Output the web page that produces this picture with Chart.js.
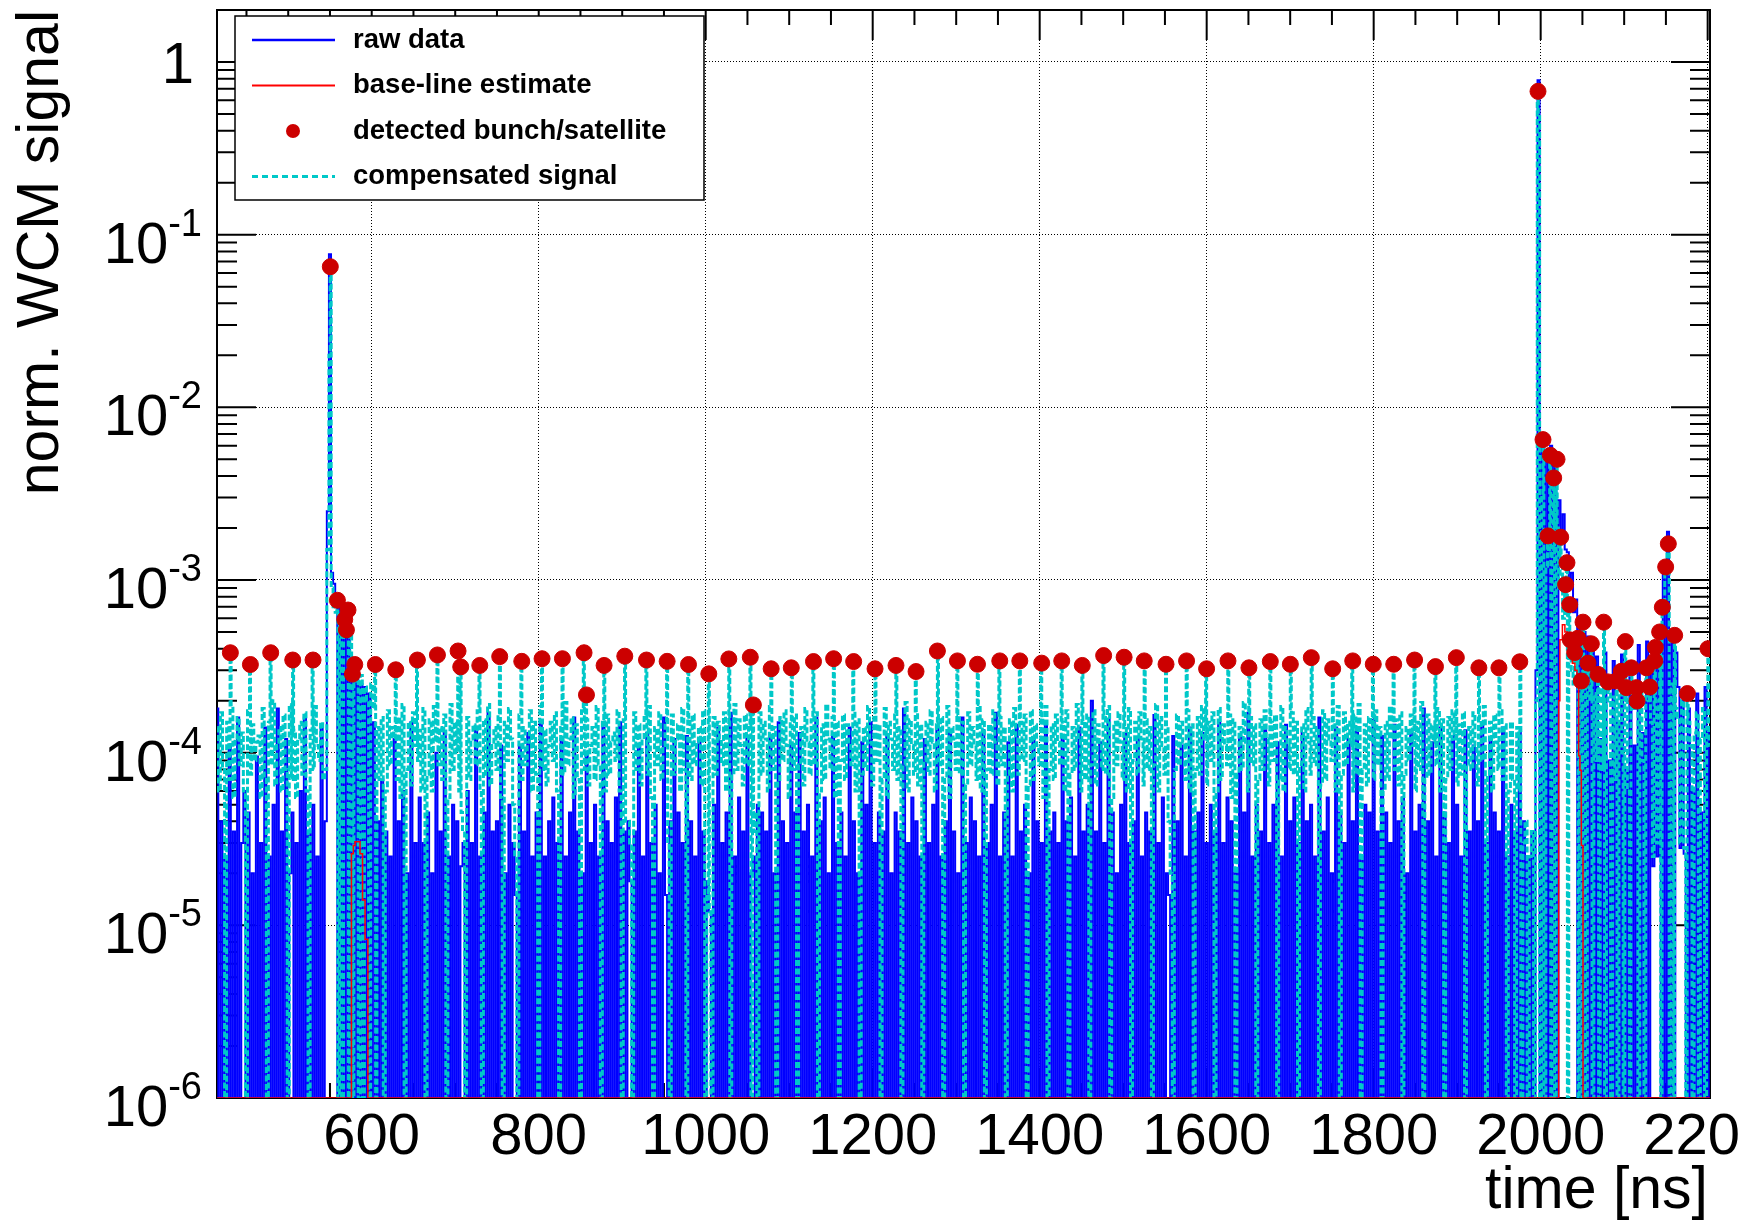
<!DOCTYPE html>
<html>
<head>
<meta charset="utf-8">
<script src="https://cdn.jsdelivr.net/npm/chart.js@4.4.1/dist/chart.umd.min.js"></script>
<style>
  html, body { margin: 0; padding: 0; background: #fff; overflow: hidden; }
</style>
</head>
<body>
<canvas id="wcm" width="1754" height="1226"></canvas>
<script>
// values are in units of 1e-6 (normalised WCM signal), bins of 2.5 ns starting at 415 ns
const UNIT = 1e-6;
const T0 = 415;
const BIN = 2.5;

const rawSignal = [
    180,0,40,0,25,0,110,0,35,0,160,0,30,60,0,45,0,20,0,95,
    0,30,0,140,0,25,0,50,0,180,0,35,0,120,0,20,45,0,30,0,
    60,0,160,0,35,0,50,0,25,0,140,0,40,2500,77000,1100,950,800,0,700,
    0,620,0,480,0,350,0,300,0,250,0,240,0,220,0,150,0,40,0,70,
    0,35,0,25,0,120,0,40,0,60,0,20,0,150,0,30,0,55,0,30,
    0,45,0,20,0,100,0,35,0,130,0,25,0,50,0,40,0,22,30,0,
    60,0,30,0,140,0,25,0,45,0,170,0,35,0,40,0,110,0,20,0,
    50,0,30,15,0,110,0,35,0,130,0,25,0,45,0,150,0,25,0,40,
    0,55,0,30,0,120,0,25,0,45,0,160,0,35,0,20,0,100,0,30,
    0,50,0,25,0,140,0,40,0,30,0,55,0,150,0,35,0,40,18,0,
    35,0,110,0,25,0,130,0,30,0,50,0,20,0,160,15,0,40,0,120,
    0,45,0,30,0,125,0,40,0,25,0,115,0,35,0,18,12,0,50,0,
    140,0,30,0,45,0,170,0,25,0,55,0,35,0,120,0,20,25,0,50,
    0,45,0,35,0,125,0,20,0,150,0,40,0,30,0,110,0,45,0,130,
    0,35,0,50,0,25,0,160,0,40,0,55,0,20,0,130,0,30,0,45,
    0,25,0,140,0,40,0,20,0,115,0,50,0,150,0,30,0,45,0,35,
    0,125,0,20,0,45,0,35,0,180,0,30,0,55,0,40,0,25,0,120,
    0,30,0,50,0,140,0,25,0,40,0,130,0,35,0,20,0,160,0,30,
    0,55,0,40,0,25,0,135,0,30,0,50,0,170,0,25,0,45,0,115,
    0,25,0,145,0,35,0,50,0,20,0,120,0,40,0,30,0,150,0,35,
    0,45,0,30,0,125,0,40,0,55,0,25,0,140,0,35,0,50,0,200,
    0,35,0,115,0,30,0,155,0,45,0,20,0,50,0,130,0,30,0,40,
    0,120,0,25,0,45,0,35,0,165,0,30,0,55,0,20,15,0,125,0,
    40,0,110,0,25,0,140,0,35,0,45,0,130,0,30,0,50,0,35,0,
    150,0,30,0,55,0,40,0,20,0,125,0,45,0,170,0,25,0,50,0,
    35,0,135,0,30,0,50,0,115,0,25,0,145,0,40,0,55,0,30,0,
    130,0,40,0,50,0,25,0,160,0,35,0,55,0,20,0,140,0,45,0,
    30,0,120,0,40,0,135,0,25,0,50,0,45,0,155,0,35,0,125,0,
    45,0,30,0,145,0,40,0,55,0,20,0,130,0,35,0,50,0,180,0,
    40,0,115,0,25,0,140,0,45,0,30,0,125,0,50,0,25,0,135,0,
    35,0,110,0,40,0,150,0,30,0,120,0,45,0,35,0,140,0,25,0,
    50,0,35,0,130,0,40,0,25,0,35,0,300,785000,0,6200,0,5400,0,6000,
    0,5500,0,2900,1800,2400,1500,1450,900,1100,650,770,0,560,0,500,0,470,0,420,
    0,360,0,120,0,380,0,90,0,340,0,150,0,370,0,80,0,330,0,110,
    0,420,0,130,0,440,0,300,22,400,25,380,0,1200,0,1900,0,430,0,380,
    240,28,200,26,0,180,0,60,0,220,0,45,0,240,0,130
];

const compSignal = [
    140,60,170,80,0,150,70,190,55,120,160,85,130,60,0,175,75,145,90,115,
    125,55,180,70,0,150,85,200,65,110,140,60,165,80,0,190,70,135,55,120,
    150,75,170,60,0,135,80,185,110,90,150,70,80,1500,20000,900,700,650,0,600,
    0,580,650,0,520,0,300,260,0,280,0,240,200,0,250,180,0,140,70,160,
    0,60,175,85,140,120,70,160,55,190,0,80,150,65,170,110,90,135,60,180,
    0,75,155,60,185,115,85,140,70,165,0,55,190,80,150,100,60,45,35,0,
    160,70,120,145,85,175,60,0,155,75,190,65,110,140,80,170,55,0,150,90,
    180,120,50,25,0,165,70,140,85,115,175,60,150,75,0,185,80,135,65,110,
    150,90,170,60,0,140,75,195,85,120,160,55,145,70,0,175,80,155,65,110,
    140,70,185,85,0,150,60,165,75,115,130,90,175,60,0,155,40,40,30,0,
    170,80,145,65,120,160,75,185,55,0,140,85,170,70,110,150,30,0,165,75,
    120,145,60,180,80,0,155,70,165,85,115,140,65,175,0,15,12,0,160,75,
    150,120,85,170,60,145,0,75,190,80,155,110,65,165,85,140,0,35,45,0,
    170,75,150,120,60,185,80,140,0,70,160,90,175,110,55,150,80,165,0,85,
    140,65,180,115,75,155,85,170,0,60,145,70,190,120,80,160,55,150,0,90,
    165,70,145,110,85,175,60,155,0,75,140,80,185,115,65,160,90,145,0,70,
    180,55,150,120,80,165,70,140,0,85,195,60,155,110,75,170,65,145,0,90,
    150,75,175,115,60,145,85,160,0,70,185,55,140,120,80,165,75,150,0,65,
    170,85,140,110,70,190,60,155,0,80,145,75,175,115,65,160,85,140,0,75,
    155,60,180,120,75,150,90,165,0,65,175,70,145,110,85,160,55,185,0,80,
    145,70,165,115,85,150,60,175,0,75,140,80,190,120,60,155,70,165,0,85,
    175,65,145,110,80,160,75,185,0,55,150,85,170,115,70,145,60,180,0,90,
    150,75,170,120,65,155,80,140,0,85,190,60,160,110,75,145,40,20,0,80,
    165,85,150,115,70,175,60,145,0,80,160,75,185,120,65,150,90,170,0,60,
    180,70,145,110,85,165,55,155,0,75,140,80,195,115,60,160,85,145,0,70,
    155,80,175,120,65,150,90,165,0,70,185,60,140,110,80,170,75,150,0,85,
    145,60,180,115,75,160,85,140,0,65,175,70,155,120,90,145,60,185,0,75,
    170,85,150,110,60,165,75,190,0,80,145,65,160,115,70,175,85,140,0,60,
    150,70,185,120,80,155,65,170,0,75,140,90,165,110,60,150,80,195,0,70,
    165,75,145,115,85,180,60,155,0,70,160,80,175,120,65,145,75,170,0,85,
    140,80,170,110,65,155,90,185,0,75,150,60,165,115,80,175,70,145,0,60,
    150,70,0,140,60,0,30,40,0,25,35,0,200,500000,0,3000,0,1200,1500,0,
    1500,0,2000,900,1200,600,800,0,400,300,250,300,0,200,0,300,0,250,200,0,
    220,90,0,250,80,0,190,230,0,210,70,0,240,100,0,200,60,0,220,180,
    200,0,230,90,0,240,200,150,25,180,30,200,0,700,1100,1500,0,250,0,180,
    160,30,200,28,0,150,110,0,130,170,0,120,180,0,140,110
];

// detected bunches / satellites: time [ns] and value (1e-6 units)
const bunchTimes = [
    430.7, 454.7, 479.0, 505.4, 529.7, 550.4, 558.9, 567.7, 569.7, 571.6, 576.9, 579.7,
    604.4, 628.8, 654.7, 678.7, 703.4, 706.6, 729.4, 753.3, 779.7, 804.0, 828.4, 854.3,
    857.2, 878.3, 903.1, 929.1, 953.8, 979.4, 1003.7, 1027.7, 1053.4, 1057.1, 1078.4, 1102.5,
    1129.1, 1153.2, 1177.2, 1202.8, 1227.9, 1251.9, 1277.5, 1301.5, 1325.5, 1352.2, 1376.2, 1402.4,
    1426.4, 1451.0, 1476.6, 1501.1, 1525.2, 1551.3, 1575.9, 1599.9, 1625.5, 1650.6, 1676.2, 1700.2,
    1725.3, 1750.9, 1774.9, 1799.5, 1824.0, 1849.0, 1874.0, 1899.0, 1926.0, 1950.0, 1975.0,
    1996.8, 2002.8, 2008.8, 2011.6, 2015.6, 2019.6, 2024.0, 2029.9, 2031.5, 2034.7, 2035.5,
    2040.7, 2044.7, 2048.7, 2050.7, 2056.7, 2060.7, 2068.7, 2075.5, 2080.7, 2090.6, 2096.6,
    2101.4, 2102.6, 2108.6, 2114.6, 2115.4, 2126.6, 2130.6, 2136.6, 2137.4, 2142.5, 2145.7,
    2149.7, 2152.9, 2160.5, 2175.7, 2200.4
];
const bunchValues = [
    379, 324, 379, 344, 344, 65200, 763, 590, 514, 670, 285, 324,
    324, 302, 344, 368, 388, 314, 320, 360, 338, 350, 350, 379,
    216, 320, 362, 344, 338, 324, 286, 349, 357, 189, 306, 310,
    337, 350, 337, 306, 320, 295, 388, 340, 325, 340, 340, 330,
    340, 320, 365, 357, 340, 325, 340, 306, 340, 310, 337, 325,
    355, 306, 340, 325, 325, 344, 315, 355, 310, 310, 336,
    676000, 6500, 1800, 5270, 3900, 5000, 1770, 940, 1260, 720, 450,
    380, 460, 260, 570, 330, 427, 284, 570, 257, 260, 296,
    440, 238, 310, 238, 199, 310, 240, 340, 407, 500, 695,
    1190, 1620, 478, 220, 400
];

// base-line estimate, value held from each time to the next (1e-6 units)
const baselineTimes = [415, 575.7, 578, 580, 586, 589, 592, 595.4, 2021.6, 2023, 2026, 2029,
    2032, 2035, 2038, 2041, 2043.5, 2045.5, 2047, 2048.7, 2050.7, 2202.5];
const baselineValues = [0, 26, 29, 30.5, 26, 14, 8.3, 0, 200, 450, 550, 500,
    440, 390, 330, 300, 260, 96, 79, 29, 0, 0];

const xTickValues = [600, 800, 1000, 1200, 1400, 1600, 1800, 2000, 2200];
const xTickLabels = ['600', '800', '1000', '1200', '1400', '1600', '1800', '2000', '220\u2007'];
const yTickValues = [1e-6, 1e-5, 1e-4, 1e-3, 1e-2, 1e-1, 1];
const yTickLabels = ['10', '10', '10', '10', '10', '10', '1'];
const yTickPowers = ['-6', '-5', '-4', '-3', '-2', '-1', ''];
const xTitle = 'time [ns]';

const X_MIN = 414.7, X_MAX = 2202.8;
const Y_MIN = 1e-6, Y_MAX = 2;

// non-positive samples sit on the bottom of the log axis, as in the original
const toY = v => Math.max(v * UNIT, Y_MIN);

const rawTable = rawSignal.map((v, i) => ({ x: T0 + i * BIN, y: toY(v) }));
const bunchTable = bunchTimes.map((t, i) => ({ x: t, y: bunchValues[i] * UNIT }));
const compTable = compSignal.map((v, i) => ({ x: T0 + i * BIN, y: toY(v) }))
    .concat(bunchTable)
    .sort((a, b) => a.x - b.x);
const baseTable = baselineTimes.map((t, i) => ({ x: t, y: toY(baselineValues[i]) }));

const FONT = "'Liberation Sans', Arial, Helvetica, sans-serif";

// frame and minor ticks like a ROOT pad, under the data
const frameTicks = {
    id: 'frameTicks',
    beforeDatasetsDraw(chart) {
        const { ctx, chartArea: a, scales: { x, y } } = chart;
        ctx.save();
        ctx.strokeStyle = '#000';
        ctx.lineWidth = 2;
        ctx.beginPath();
        for (let e = -6; e <= 0; e++) {
            for (let m = 1; m <= 9; m++) {
                const v = m * Math.pow(10, e);
                if (v < Y_MIN * 0.999 || v > Y_MAX * 1.001) continue;
                const py = y.getPixelForValue(v);
                const len = m === 1 ? 39 : 20;
                ctx.moveTo(a.left, py); ctx.lineTo(a.left + len, py);
                ctx.moveTo(a.right, py); ctx.lineTo(a.right - len, py);
            }
        }
        for (let t = 450; t <= X_MAX; t += 50) {
            const px = x.getPixelForValue(t);
            const len = t % 200 === 0 ? 30 : 15;
            ctx.moveTo(px, a.bottom); ctx.lineTo(px, a.bottom - len);
            ctx.moveTo(px, a.top); ctx.lineTo(px, a.top + len);
        }
        ctx.stroke();
        ctx.strokeRect(a.left, a.top, a.right - a.left, a.bottom - a.top);
        ctx.restore();
    }
};

// y tick labels written as 10 with a raised exponent, x title flush right
const axisText = {
    id: 'axisText',
    afterDraw(chart) {
        const { ctx, chartArea: a, scales: { y } } = chart;
        ctx.save();
        ctx.fillStyle = '#000';
        ctx.textAlign = 'right';
        ctx.textBaseline = 'alphabetic';
        yTickValues.forEach((v, i) => {
            const py = y.getPixelForValue(v);
            const pw = yTickPowers[i];
            if (!pw) {
                ctx.font = '58px ' + FONT;
                ctx.fillText(yTickLabels[i], a.left - 23, py + 21);
                return;
            }
            const xr = a.left - 15;
            ctx.font = '38px ' + FONT;
            const supW = ctx.measureText(pw).width;
            ctx.fillText(pw, xr, py + 1);
            ctx.font = '58px ' + FONT;
            ctx.fillText(yTickLabels[i], xr - supW, py + 28);
        });
        ctx.font = '59px ' + FONT;
        ctx.fillText(xTitle, a.right - 2, a.bottom + 110);
        ctx.restore();
    }
};

// boxed legend in the top-left corner of the frame
const boxLegend = {
    id: 'boxLegend',
    afterDraw(chart) {
        const { ctx, chartArea: a } = chart;
        const x0 = a.left + 18, y0 = a.top + 6, w = 469, h = 184;
        ctx.save();
        ctx.fillStyle = '#fff';
        ctx.fillRect(x0, y0, w, h);
        ctx.strokeStyle = '#000';
        ctx.lineWidth = 1.5;
        ctx.strokeRect(x0, y0, w, h);
        chart.data.datasets.forEach((ds, i) => {
            const cy = y0 + 24 + i * 45.5;
            if (ds.showLine === false) {
                ctx.fillStyle = ds.pointBackgroundColor;
                ctx.beginPath();
                ctx.arc(x0 + 58, cy, 7, 0, Math.PI * 2);
                ctx.fill();
            } else {
                ctx.strokeStyle = ds.borderColor;
                ctx.lineWidth = Math.min(ds.borderWidth + 0.5, 3);
                ctx.setLineDash(ds.borderDash ? [6, 4] : []);
                ctx.beginPath();
                ctx.moveTo(x0 + 17, cy);
                ctx.lineTo(x0 + 100, cy);
                ctx.stroke();
                ctx.setLineDash([]);
            }
            ctx.fillStyle = '#000';
            ctx.font = 'bold 27.5px ' + FONT;
            ctx.textBaseline = 'middle';
            ctx.textAlign = 'left';
            ctx.fillText(ds.label, x0 + 118, cy);
        });
        ctx.restore();
    }
};

new Chart(document.getElementById('wcm').getContext('2d'), {
    type: 'line',
    data: {
        datasets: [
            {
                label: 'raw data',
                data: rawTable,
                borderColor: '#0000ff',
                borderWidth: 2,
                stepped: 'middle',
                pointRadius: 0,
                order: 4
            },
            {
                label: 'base-line estimate',
                data: baseTable,
                borderColor: '#ff0000',
                borderWidth: 1.5,
                stepped: 'before',
                pointRadius: 0,
                order: 2
            },
            {
                label: 'detected bunch/satellite',
                data: bunchTable,
                showLine: false,
                pointRadius: 8,
                pointStyle: 'circle',
                pointBackgroundColor: '#cc0000',
                pointBorderColor: '#cc0000',
                pointBorderWidth: 1,
                order: 1
            },
            {
                label: 'compensated signal',
                data: compTable,
                borderColor: '#00c8c8',
                borderWidth: 3,
                borderDash: [6, 2.5],
                stepped: 'middle',
                pointRadius: 0,
                order: 3
            }
        ]
    },
    options: {
        responsive: false,
        animation: false,
        events: [],
        layout: { padding: { left: 0, right: 44, top: 10, bottom: 0 } },
        plugins: {
            legend: { display: false },
            tooltip: { enabled: false }
        },
        scales: {
            x: {
                type: 'linear',
                min: X_MIN,
                max: X_MAX,
                afterBuildTicks: s => { s.ticks = xTickValues.map(v => ({ value: v })); },
                afterFit: s => { s.height = 128; s.paddingLeft = 0; s.paddingRight = 0; },
                ticks: {
                    callback: (v, i) => xTickLabels[i],
                    color: '#000',
                    font: { family: FONT, size: 58 },
                    padding: 5,
                    maxRotation: 0,
                    autoSkip: false
                },
                grid: { color: '#000', lineWidth: 1, drawTicks: false },
                border: { display: false, dash: [1, 2] },
                title: { display: false }
            },
            y: {
                type: 'logarithmic',
                min: Y_MIN,
                max: Y_MAX,
                afterBuildTicks: s => { s.ticks = yTickValues.map(v => ({ value: v })); },
                afterFit: s => { s.width = 217; s.paddingTop = 0; s.paddingBottom = 0; },
                ticks: { display: false },
                grid: { color: '#000', lineWidth: 1, drawTicks: false },
                border: { display: false, dash: [1, 2] },
                title: {
                    display: true,
                    text: 'norm. WCM signal',
                    align: 'end',
                    color: '#000',
                    font: { family: FONT, size: 59, lineHeight: 1.2 },
                    padding: { top: 6, bottom: 0 }
                }
            }
        }
    },
    plugins: [frameTicks, axisText, boxLegend]
});
</script>
</body>
</html>
